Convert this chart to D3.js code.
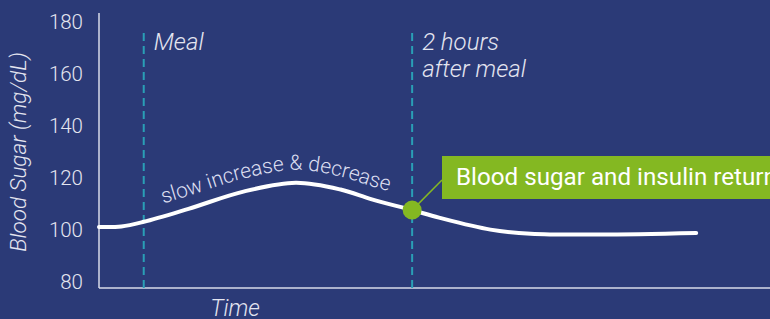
<!DOCTYPE html>
<html>
<head>
<meta charset="utf-8">
<script src="https://cdn.jsdelivr.net/npm/d3@7"></script>
<style>
  body { margin: 0; background: #2b3a77; }
  svg { display: block; font-family: Roboto, "Noto Sans", sans-serif; }
</style>
</head>
<body>
<div id="chart"></div>
<script>
// minutes relative to meal, blood sugar in mg/dL
const times = [-20, -10, 0, 20, 45, 68, 88, 102, 120, 132, 155, 173, 204, 247];
const sugar = [100, 100.2, 102, 107, 113.7, 117, 114.4, 110.6, 106.5, 103.6, 99.0, 97.4, 97.1, 97.7];
const yTicks = [80, 100, 120, 140, 160, 180];
const markers = [
    { t: 0, label: ["Meal"] },
    { t: 120, label: ["2 hours", "after meal"] }
];
const calloutTime = 120;
const calloutValue = 106.5;
const calloutText = "Blood sugar and insulin return";
const curveLabel = "slow increase & decrease";

const data = times.map((t, i) => ({ t: t, v: sugar[i] }));

const W = 770, H = 319;
const svg = d3.select("#chart").append("svg")
    .attr("width", W)
    .attr("height", H);

svg.append("rect").attr("width", W).attr("height", H).attr("fill", "#2b3a77");

const x = d3.scaleLinear().domain([-20, 280]).range([99, 770]);
const y = d3.scaleLinear().domain([80, 180]).range([279, 19]);

const axisColor = "#d9dbe8";
const textColor = "#e4e5f0";

// y axis
const yAxis = svg.append("g")
    .attr("transform", "translate(99,0)")
    .call(d3.axisLeft(y).tickValues(yTicks).tickSize(0).tickPadding(16));
yAxis.select(".domain").remove();
yAxis.selectAll("text")
    .attr("fill", textColor)
    .attr("font-size", 20.5)
    .attr("font-weight", 300)
    .attr("font-family", "Roboto")
    .attr("dy", "0.47em");

svg.append("line")
    .attr("x1", 99).attr("x2", 99).attr("y1", 13).attr("y2", 288)
    .attr("stroke", axisColor).attr("stroke-width", 1.5);
svg.append("line")
    .attr("x1", 99).attr("x2", 770).attr("y1", 288).attr("y2", 288)
    .attr("stroke", axisColor).attr("stroke-width", 1.5);

// axis titles
svg.append("text")
    .attr("transform", "translate(26,152) rotate(-90)")
    .attr("text-anchor", "middle")
    .attr("fill", textColor)
    .attr("font-size", 22.5)
    .attr("font-weight", 300)
    .attr("font-style", "italic")
    .text("Blood Sugar (mg/dL)");

svg.append("text")
    .attr("x", 235).attr("y", 316)
    .attr("text-anchor", "middle")
    .attr("fill", textColor)
    .attr("font-size", 23)
    .attr("font-weight", 300)
    .attr("font-style", "italic")
    .text("Time");

// dashed marker lines
markers.forEach(m => {
    svg.append("line")
        .attr("x1", x(m.t)).attr("x2", x(m.t))
        .attr("y1", 33).attr("y2", 288)
        .attr("stroke", "#2a9fb6")
        .attr("stroke-width", 2)
        .attr("stroke-dasharray", "8,5");
    const t = svg.append("text")
        .attr("y", 50)
        .attr("fill", textColor)
        .attr("font-size", 24)
        .attr("font-weight", 300)
        .attr("font-style", "italic");
    m.label.forEach((s, i) => {
        t.append("tspan").attr("x", x(m.t) + 10).attr("dy", i ? 27 : 0).text(s);
    });
});

// main curve
const line = d3.line()
    .x(d => x(d.t))
    .y(d => y(d.v))
    .curve(d3.curveCatmullRom.alpha(0.5));

svg.append("path")
    .datum(data)
    .attr("d", line)
    .attr("fill", "none")
    .attr("stroke", "#ffffff")
    .attr("stroke-width", 4)
    .attr("stroke-linecap", "round");

// label following the curve
const offsetLine = d3.line()
    .x(d => x(d.t))
    .y(d => y(d.v) - 13)
    .curve(d3.curveCatmullRom.alpha(0.5));

const guide = svg.append("path")
    .datum(data)
    .attr("id", "guide")
    .attr("d", offsetLine)
    .attr("fill", "none")
    .attr("stroke", "none");

const node = guide.node();
let start = 0;
while (start < node.getTotalLength() && node.getPointAtLength(start).x < 163) start += 0.5;

svg.append("text")
    .attr("fill", "#dcdef0")
    .attr("font-size", 21)
    .attr("font-weight", 300)
    .append("textPath")
    .attr("href", "#guide")
    .attr("startOffset", start)
    .text(curveLabel);

// callout
const cx = x(calloutTime), cy = y(calloutValue);
svg.append("line")
    .attr("x1", cx).attr("y1", cy)
    .attr("x2", 442).attr("y2", 180)
    .attr("stroke", "#84b822")
    .attr("stroke-width", 1.5);

svg.append("rect")
    .attr("x", 442).attr("y", 156)
    .attr("width", 340).attr("height", 43)
    .attr("fill", "#84b822");

svg.append("text")
    .attr("x", 456).attr("y", 185)
    .attr("fill", "#ffffff")
    .attr("font-size", 24.2)
    .text(calloutText);

svg.append("circle")
    .attr("cx", cx).attr("cy", cy)
    .attr("r", 9.5)
    .attr("fill", "#84b822");
</script>
</body>
</html>
